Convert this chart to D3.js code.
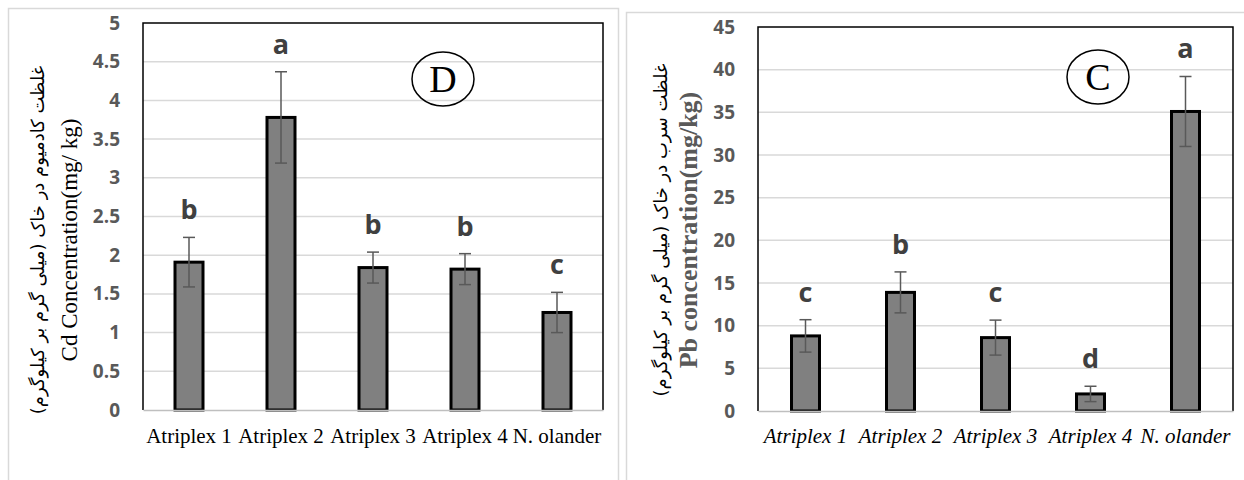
<!DOCTYPE html>
<html>
<head>
<meta charset="utf-8">
<script src="https://cdn.jsdelivr.net/npm/d3@7"></script>
<style>
  html, body { margin: 0; padding: 0; background: #fff; }
  svg { display: block; }
</style>
</head>
<body>
<svg id="chart" width="1244" height="480"></svg>
<script>
// ---------------- DATA ----------------
const categories = ["Atriplex 1", "Atriplex 2", "Atriplex 3", "Atriplex 4", "N. olander"];

const cdMeans   = [1.91, 3.78, 1.84, 1.82, 1.26];
const cdErrors  = [0.32, 0.59, 0.20, 0.20, 0.26];
const cdLetters = ["b", "a", "b", "b", "c"];
const cdTicks   = [0, 0.5, 1, 1.5, 2, 2.5, 3, 3.5, 4, 4.5, 5];

const pbMeans   = [8.8, 13.9, 8.6, 2.0, 35.1];
const pbErrors  = [1.9, 2.4, 2.05, 0.9, 4.1];
const pbLetters = ["c", "b", "c", "d", "a"];
const pbTicks   = [0, 5, 10, 15, 20, 25, 30, 35, 40, 45];

const cdTitleFa = "غلظت کادمیوم در خاک (میلی گرم بر کیلوگرم)";
const cdTitleEn = "Cd Concentration(mg/ kg)";
const pbTitleFa = "غلظت سرب در خاک (میلی گرم بر کیلوگرم)";
const pbTitleEn = "Pb concentration(mg/kg)";

// ---------------- DRAW ----------------
const svg = d3.select("#chart");
svg.append("rect").attr("width", 1244).attr("height", 480).attr("fill", "#fff");

// outer panel frames
svg.append("rect").attr("x", 8.5).attr("y", 8.5).attr("width", 610).attr("height", 480)
  .attr("fill", "none").attr("stroke", "#d9d9d9").attr("stroke-width", 1.5);
svg.append("rect").attr("x", 626.5).attr("y", 12.5).attr("width", 630).attr("height", 480)
  .attr("fill", "none").attr("stroke", "#d9d9d9").attr("stroke-width", 1.5);

function drawPanel(cfg) {
  const g = svg.append("g");
  const x = d3.scaleBand().domain(categories).range([cfg.left, cfg.right]).padding(0);
  const y = d3.scaleLinear().domain([0, cfg.ticks[cfg.ticks.length - 1]]).range([cfg.bottom, cfg.top]);

  // gridlines
  g.append("g").selectAll("line")
    .data(cfg.ticks.filter((t, i) => i > 0 && i < cfg.ticks.length - 1))
    .join("line")
    .attr("x1", cfg.left).attr("x2", cfg.right)
    .attr("y1", d => y(d)).attr("y2", d => y(d))
    .attr("stroke", "#d9d9d9").attr("stroke-width", 1.5);

  // plot frame (top, left, right)
  g.append("path")
    .attr("d", `M${cfg.left},${cfg.bottom} V${cfg.top} H${cfg.right} V${cfg.bottom}`)
    .attr("fill", "none").attr("stroke", "#000").attr("stroke-width", 1.5);

  // y axis labels
  const yAxis = g.append("g").attr("transform", `translate(${cfg.left},0)`)
    .call(d3.axisLeft(y).tickValues(cfg.ticks).tickSize(0).tickPadding(cfg.tickPad)
      .tickFormat(d3.format("~g")));
  yAxis.attr("font-family", null).attr("font-size", null);
  yAxis.select(".domain").remove();
  yAxis.selectAll("text")
    .style("font-family", "'Open Sans', 'Liberation Sans', sans-serif")
    .style("font-weight", "700").style("font-size", "19px").attr("fill", "#595959");

  // bars
  const bw = 28;
  g.append("g").selectAll("rect")
    .data(cfg.means)
    .join("rect")
    .attr("x", (d, i) => x(categories[i]) + x.bandwidth() / 2 - bw / 2)
    .attr("y", d => y(d))
    .attr("width", bw)
    .attr("height", d => y(0) - y(d))
    .attr("fill", "#808080").attr("stroke", "#000").attr("stroke-width", 3);

  // x axis line + labels
  const xAxis = g.append("g").attr("transform", `translate(0,${cfg.bottom})`)
    .call(d3.axisBottom(x).tickSize(0).tickPadding(cfg.xPad));
  xAxis.attr("font-family", null).attr("font-size", null);
  xAxis.select(".domain").attr("stroke", "#bfbfbf").attr("stroke-width", 1.5);
  xAxis.selectAll("text")
    .style("font-family", "'Liberation Serif', 'Times New Roman', serif")
    .style("font-size", "21px").attr("fill", "#000")
    .style("font-style", cfg.italic ? "italic" : "normal");

  // error bars
  const cap = 6;
  const eb = g.append("g").attr("stroke", "#595959").attr("stroke-width", 1.5);
  cfg.means.forEach((m, i) => {
    const cx = x(categories[i]) + x.bandwidth() / 2;
    const hi = y(m + cfg.errors[i]), lo = y(m - cfg.errors[i]);
    eb.append("line").attr("x1", cx).attr("x2", cx).attr("y1", hi).attr("y2", lo);
    eb.append("line").attr("x1", cx - cap).attr("x2", cx + cap).attr("y1", hi).attr("y2", hi);
    eb.append("line").attr("x1", cx - cap).attr("x2", cx + cap).attr("y1", lo).attr("y2", lo);
  });

  // significance letters
  g.append("g").selectAll("text")
    .data(cfg.letters)
    .join("text")
    .attr("x", (d, i) => x(categories[i]) + x.bandwidth() / 2)
    .attr("y", (d, i) => y(cfg.means[i] + cfg.errors[i]) - 18)
    .attr("text-anchor", "middle")
    .style("font-family", "'Open Sans', 'Liberation Sans', sans-serif")
    .style("font-weight", "700").style("font-size", "27px").attr("fill", "#404040")
    .text(d => d);

  // panel tag circle
  g.append("ellipse").attr("cx", cfg.tag.cx).attr("cy", cfg.tag.cy).attr("rx", 31).attr("ry", 27)
    .attr("fill", "none").attr("stroke", "#000").attr("stroke-width", 1.5);
  g.append("text").attr("x", cfg.tag.cx).attr("y", cfg.tag.cy + 13)
    .attr("text-anchor", "middle")
    .style("font-family", "'Liberation Serif', 'Times New Roman', serif")
    .style("font-size", "38px").attr("fill", "#000").text(cfg.tag.label);

  // y titles
  g.append("text")
    .attr("transform", `translate(${cfg.faX},${cfg.titleCy}) rotate(-90)`)
    .attr("text-anchor", "middle").attr("dominant-baseline", "central")
    .style("font-family", "'DejaVu Sans', sans-serif")
    .style("font-size", "18px").attr("fill", "#000")
    .text(cfg.titleFa);
  g.append("text")
    .attr("transform", `translate(${cfg.enX},${cfg.titleCy}) rotate(-90)`)
    .attr("text-anchor", "middle").attr("dominant-baseline", "central")
    .style("font-family", "'Liberation Serif', 'Times New Roman', serif")
    .style("font-size", cfg.enSize + "px").style("font-weight", cfg.enBold ? "700" : "400")
    .attr("fill", cfg.enColor)
    .text(cfg.titleEn);
}

drawPanel({
  left: 143, right: 603, top: 23, bottom: 410,
  ticks: cdTicks, means: cdMeans, errors: cdErrors, letters: cdLetters,
  tickPad: 23, xPad: 18, italic: false,
  tag: { cx: 443, cy: 79, label: "D" },
  titleFa: cdTitleFa, titleEn: cdTitleEn,
  faX: 37, enX: 69, titleCy: 240, enSize: 23, enBold: false, enColor: "#000"
});

drawPanel({
  left: 758, right: 1233, top: 27, bottom: 411,
  ticks: pbTicks, means: pbMeans, errors: pbErrors, letters: pbLetters,
  tickPad: 23, xPad: 17, italic: true,
  tag: { cx: 1098, cy: 77, label: "C" },
  titleFa: pbTitleFa, titleEn: pbTitleEn,
  faX: 660, enX: 688, titleCy: 230, enSize: 26, enBold: true, enColor: "#595959"
});
</script>
</body>
</html>
